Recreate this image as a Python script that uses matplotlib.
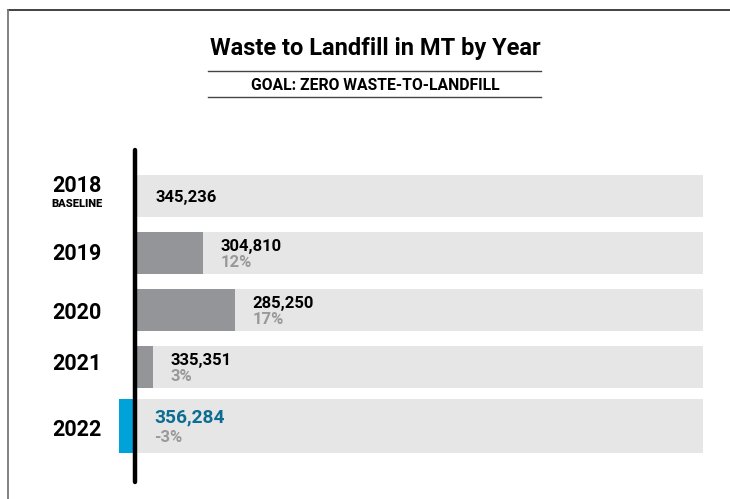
import matplotlib
matplotlib.use('Agg')
import matplotlib.pyplot as plt
from matplotlib.lines import Line2D

# data
years = ['2018', '2019', '2020', '2021', '2022']
tonnes = [345236, 304810, 285250, 335351, 356284]
pct_labels = ['', '12%', '17%', '3%', '-3%']

baseline = tonnes[0]
reduction = [(baseline - t) / baseline * 100 for t in tonnes]

LIGHT = '#e6e6e6'
DARK = '#939598'
BLUE = '#00a3d9'
BLUE_TXT = '#0b6e90'
GREY_TXT = '#999999'
FONT = 'Roboto'

W, H = 730, 499
fig = plt.figure(figsize=(W / 100, H / 100), dpi=100)
ax = fig.add_axes([0, 0, 1, 1])

# pixel layout: x=0% at 137px, 100% at 703px; rows 57px apart, first at 196px
px_per_pct = (703 - 137) / 100
x0_px, row0_px, row_px = 137, 196, 57
ax.set_xlim(-x0_px / px_per_pct, (W - x0_px) / px_per_pct)
ax.set_ylim((H - row0_px) / row_px, -row0_px / row_px)
ax.axis('off')

ypos = [0, 1, 2, 3, 4.04]
heights = [0.75, 0.75, 0.75, 0.75, 0.95]
# small vertical nudges for the year labels
year_dy = [-0.18, 0.02, 0.05, -0.06, 0.06]

ax.barh(ypos, [100] * len(years), height=heights, color=LIGHT, left=0, zorder=1)
for i, r in enumerate(reduction):
    if i == 0:
        continue
    ax.barh(ypos[i], r, height=heights[i], color=DARK if r > 0 else BLUE, zorder=2)

# vertical axis line
ax.plot([-0.35, -0.35], [-0.81, 5.02], color='black', lw=3.2,
        solid_capstyle='round', zorder=3)

# labels
xyear = -10.6
for i, (yr, t, lab) in enumerate(zip(years, tonnes, pct_labels)):
    y = ypos[i]
    xt = max(reduction[i], 0) + 3.0
    ax.text(xyear, y + year_dy[i], yr, ha='center', va='center', fontsize=15.5,
            fontweight='bold', family=FONT)
    if i == 0:
        ax.text(xyear, y + 0.14, 'BASELINE', ha='center', va='center', fontsize=8,
                fontweight='black', family=FONT)
        ax.text(xt + 0.3, y + 0.02, f'{t:,}', ha='left', va='center', fontsize=12,
                fontweight='bold', family=FONT)
        continue
    last = i == len(years) - 1
    ax.annotate(f'{t:,}', (xt, y), xytext=(0, 6.5 if last else 4.7),
                textcoords='offset points', ha='left', va='center',
                fontsize=13.8 if last else 12, fontweight='bold', family=FONT,
                color=BLUE_TXT if last else 'black')
    ax.annotate(lab, (xt, y), xytext=(0, -8 if last else -6.8),
                textcoords='offset points', ha='left', va='center',
                fontsize=12, fontweight='bold', family=FONT, color=GREY_TXT)

# title block
fig.text(375 / W, 1 - 48 / H, 'Waste to Landfill in MT by Year', ha='center', va='center',
         fontsize=17, fontweight='bold', family=FONT)
fig.text(375 / W, 1 - 86 / H, 'GOAL: ZERO WASTE-TO-LANDFILL', ha='center', va='center',
         fontsize=11.3, fontweight='bold', family=FONT)
for ly in (71, 97):
    fig.add_artist(Line2D([208 / W, 541 / W], [1 - ly / H, 1 - ly / H],
                          color='#444444', lw=1.0, transform=fig.transFigure))

# frame
fig.add_artist(Line2D([8 / W, 1], [1 - 10 / H, 1 - 10 / H], color='#333333', lw=1.3,
                      transform=fig.transFigure))
fig.add_artist(Line2D([8 / W, 8 / W], [1 - 10 / H, 0], color='#777777', lw=1.3,
                      transform=fig.transFigure))

fig.savefig('out.png', dpi=100)
